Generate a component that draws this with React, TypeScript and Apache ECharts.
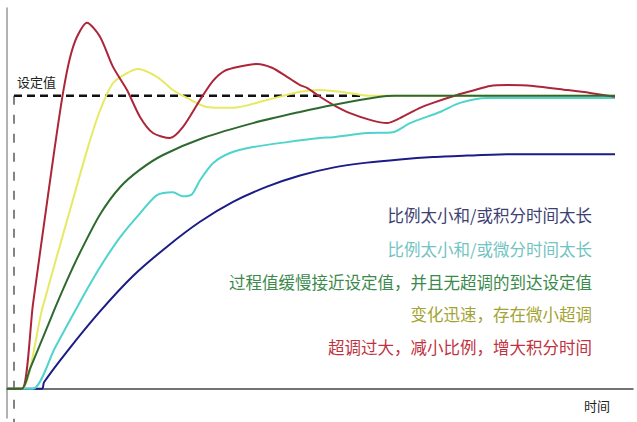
import { useEffect, useRef } from 'react'
import * as echarts from 'echarts'

// time in arbitrary units, value in % of setpoint
const setpoint = 100
const setpointDashEnd = 358
const setpointMarkerTime = 7

const redCurve = [
  [0, 0], [15, 0], [26, 29.0], [41, 66.0], [48, 83.0], [56, 101.0], [63, 113.0], [70, 120.2],
  [80, 125.0], [93, 120.2], [106, 109.9], [120, 102.0], [133, 92.8], [146, 87.3], [163, 85.6],
  [176, 89.4], [193, 98.6], [206, 105.1], [218, 108.6], [233, 110.0], [250, 110.9], [265, 109.6],
  [280, 106.5], [293, 103.7], [300, 102.7], [313, 99.7], [328, 96.6], [343, 94.1], [363, 91.8],
  [380, 90.7], [393, 92.4], [413, 95.9], [426, 97.6], [450, 100.3], [468, 102.0], [483, 103.4],
  [500, 103.7], [526, 103.4], [560, 102.0], [583, 101.0], [608, 99.7],
]

const yellowCurve = [
  [0, 0], [15, 0], [35, 27.0], [63, 61.0], [81, 82.5], [93, 95.0], [106, 104.4], [120, 107.8],
  [131, 109.2], [150, 106.5], [166, 102.0], [180, 99.3], [200, 96.2], [226, 95.9], [260, 98.6],
  [293, 101.4], [313, 102.0], [333, 101.4], [363, 100], [608, 100],
]

const greenCurve = [
  [0, 0], [15, 0], [23, 6.8], [36, 17.5], [48, 27.5], [60, 37.0], [73, 46.5], [93, 59.5],
  [113, 68.8], [133, 74.8], [156, 79.8], [196, 85.6], [246, 90.7], [293, 94.5], [326, 96.9],
  [373, 99.7], [388, 100], [608, 100],
]

const cyanCurve = [
  [0, 0], [26, 0], [48, 14.0], [76, 31.5], [93, 41.5], [113, 51.7], [133, 59.9], [150, 66.1],
  [166, 67.1], [176, 65.7], [185, 66.4], [193, 71.2], [206, 77.0], [223, 80.5], [246, 82.5],
  [280, 84.2], [313, 85.6], [326, 85.9], [360, 87.3], [386, 87.6], [403, 90.7], [433, 94.5],
  [453, 97.6], [480, 99.3], [608, 99.3],
]

const blueCurve = [
  [0, 0], [35, 0], [37, 2.2], [60, 12.7], [93, 26.4], [126, 38.5], [160, 48.5], [193, 57.0],
  [226, 63.8], [260, 69.0], [293, 72.8], [326, 75.5], [360, 77.2], [393, 78.3], [426, 79.1],
  [460, 79.6], [500, 80.1], [608, 80.1],
]

const notes = [
  { text: '比例太小和/或积分时间太长', color: '#3d4172' },
  { text: '比例太小和/或微分时间太长', color: '#72c4c2' },
  { text: '过程值缓慢接近设定值，并且无超调的到达设定值', color: '#3b8a4b' },
  { text: '变化迅速，存在微小超调', color: '#a3a332' },
  { text: '超调过大，减小比例，增大积分时间', color: '#c0323f' },
]
const noteYs = [215, 249, 282, 314, 347]

const cjk = '"Noto Sans CJK SC", "Noto Sans", sans-serif'

function curve(name: string, data: number[][], color: string, z: number) {
  return {
    name,
    type: 'line' as const,
    data,
    showSymbol: false,
    smooth: 0.25,
    z,
    lineStyle: { color, width: 2 },
  }
}

export default function App() {
  const ref = useRef<HTMLDivElement>(null)

  useEffect(() => {
    if (!ref.current) return
    const chart = echarts.init(ref.current, undefined, { renderer: 'svg' })
    chart.setOption({
      animation: false,
      backgroundColor: '#ffffff',
      grid: { left: 7, top: 8, width: 626, height: 410 },
      xAxis: {
        type: 'value',
        min: 0,
        max: 626,
        axisLine: { show: true, lineStyle: { color: '#444', width: 1.5 } },
        axisTick: { show: false },
        axisLabel: { show: false },
        splitLine: { show: false },
      },
      yAxis: {
        type: 'value',
        min: -10,
        max: 130,
        axisLine: { show: true, onZero: false, lineStyle: { color: '#999', width: 1.5 } },
        axisTick: { show: false },
        axisLabel: { show: false },
        splitLine: { show: false },
      },
      series: [
        {
          type: 'line',
          data: [[setpointMarkerTime, setpoint], [setpointDashEnd, setpoint]],
          showSymbol: false,
          z: 1,
          lineStyle: { color: '#111', width: 2.5, type: [8, 5] },
        },
        {
          type: 'line',
          data: [[setpointMarkerTime, setpoint], [setpointMarkerTime, -12]],
          showSymbol: false,
          clip: false,
          z: 1,
          lineStyle: { color: '#333', width: 1.2, type: [9, 10] },
        },
        curve('blue', blueCurve, '#1c1c86', 3),
        curve('cyan', cyanCurve, '#4ed3cd', 3),
        curve('yellow', yellowCurve, '#e6ea62', 4),
        curve('red', redCurve, '#ad2539', 5),
        curve('green', greenCurve, '#2e6a30', 6),
      ],
      graphic: [
        {
          type: 'text',
          x: 17,
          y: 81,
          style: {
            text: '设定值',
            fill: '#222',
            font: `13px ${cjk}`,
            textVerticalAlign: 'middle',
          },
        },
        {
          type: 'text',
          x: 610,
          y: 405,
          style: {
            text: '时间',
            fill: '#222',
            font: `13px ${cjk}`,
            textAlign: 'right',
            textVerticalAlign: 'middle',
          },
        },
        ...notes.map((n, i) => ({
          type: 'text',
          x: 592,
          y: noteYs[i],
          style: {
            text: n.text,
            fill: n.color,
            font: `16.5px ${cjk}`,
            textAlign: 'right',
            textVerticalAlign: 'middle',
          },
        })),
      ],
    })
    return () => chart.dispose()
  }, [])

  return (
    <div
      ref={ref}
      style={{ position: 'fixed', left: 0, top: 0, width: 637, height: 422 }}
    />
  )
}
